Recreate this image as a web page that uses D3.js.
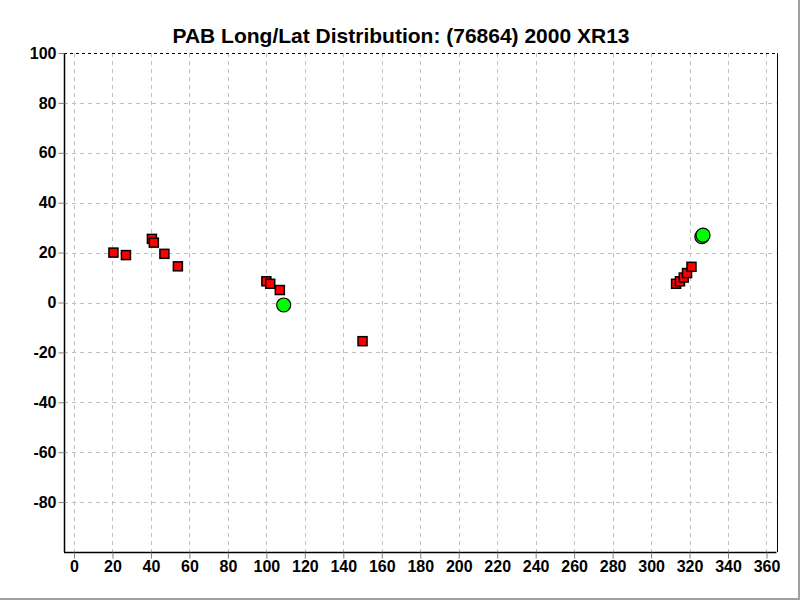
<!DOCTYPE html>
<html><head><meta charset="utf-8">
<script src="https://cdn.jsdelivr.net/npm/d3@7"></script>
<style>body{margin:0;background:#fff}svg{display:block}</style>
</head><body>
<svg id="c" width="800" height="600"></svg>
<script>
const title = "PAB Long/Lat Distribution: (76864) 2000 XR13";
const xTicks = d3.range(0, 361, 20);
const yTicks = [100, 80, 60, 40, 20, 0, -20, -40, -60, -80];
const squareLon = [20.5, 27, 40.5, 41.5, 47, 54, 100, 102, 107, 150, 313, 315, 317, 318.7, 321];
const squareLat = [20, 19, 25.5, 24, 19.5, 14.5, 8.5, 7.5, 5, -15.5, 7.5, 8.5, 10, 11.8, 14.3];
const circleLon = [109, 326.4, 327];
const circleLat = [-1, 26.4, 27];

const svg = d3.select("#c");
const m = {l: 64, t: 53, r: 776.5, b: 552};
const x = d3.scaleLinear().domain([-5.2, 365.2]).range([m.l, m.r]);
const y = d3.scaleLinear().domain([-100, 100]).range([m.b, m.t]);

svg.append("rect").attr("width", 800).attr("height", 600).attr("fill", "#fff");

// grid
const g = svg.append("g");
g.selectAll(".vx").data(xTicks).join("line")
  .attr("x1", d => Math.round(x(d)) + 0.5).attr("x2", d => Math.round(x(d)) + 0.5)
  .attr("y1", m.t).attr("y2", m.b)
  .attr("stroke", "#c0c0c0").attr("stroke-dasharray", "4,4");
g.selectAll(".hy").data(yTicks.filter(d => d !== 100)).join("line")
  .attr("y1", d => Math.round(y(d)) + 0.5).attr("y2", d => Math.round(y(d)) + 0.5)
  .attr("x1", m.l).attr("x2", m.r)
  .attr("stroke", "#c0c0c0").attr("stroke-dasharray", "4,4");
// top border dashed
g.append("line").attr("x1", m.l).attr("x2", m.r)
  .attr("y1", Math.round(y(100)) + 0.5).attr("y2", Math.round(y(100)) + 0.5)
  .attr("stroke", "#000").attr("stroke-dasharray", "3,3");
// right border
g.append("line").attr("x1", Math.round(m.r) + 0.5).attr("x2", Math.round(m.r) + 0.5)
  .attr("y1", m.t).attr("y2", m.b).attr("stroke", "#000");

// axes
const fmt = d => String(d);
const xAxis = d3.axisBottom(x).tickValues(xTicks).tickSize(6).tickPadding(2).tickFormat(fmt);
const yAxis = d3.axisLeft(y).tickValues(yTicks).tickSize(6).tickPadding(2).tickFormat(fmt);
const ax = svg.append("g").attr("transform", `translate(0,${m.b + 0.5})`).call(xAxis);
const ay = svg.append("g").attr("transform", `translate(${m.l + 0.5},0)`).call(yAxis);
[ax, ay].forEach(a => {
  a.select(".domain").attr("stroke", "#000").attr("stroke-width", 1.5);
  a.selectAll(".tick line").attr("stroke", "#808080");
  a.selectAll("text").attr("fill", "#000")
    .style("font-family", "Liberation Sans, Arial, sans-serif")
    .style("font-weight", "bold").style("font-size", "16px");
});
ax.select(".domain").attr("d", `M${m.l},0H${m.r}`);
ay.select(".domain").attr("d", `M0,${m.t}V${m.b}`);

// points
const sq = 9;
svg.append("g").selectAll("rect").data(squareLon.map((d, i) => [d, squareLat[i]])).join("rect")
  .attr("x", d => x(d[0]) - sq / 2).attr("y", d => y(d[1]) - sq / 2)
  .attr("width", sq).attr("height", sq)
  .attr("fill", "#ff0000").attr("stroke", "#000").attr("stroke-width", 1.5);
svg.append("g").selectAll("circle").data(circleLon.map((d, i) => [d, circleLat[i]])).join("circle")
  .attr("cx", d => x(d[0])).attr("cy", d => y(d[1])).attr("r", 7)
  .attr("fill", "#00ff00").attr("stroke", "#000").attr("stroke-width", 1.2);

// title
svg.append("text").attr("x", 401).attr("y", 43).attr("text-anchor", "middle")
  .style("font-family", "Liberation Sans, Arial, sans-serif")
  .style("font-weight", "bold").style("font-size", "21px").text(title);

// frame
svg.append("line").attr("x1", 799).attr("x2", 799).attr("y1", 0).attr("y2", 600).attr("stroke", "#a0a0a0").attr("stroke-width", 2);
svg.append("line").attr("x1", 0).attr("x2", 800).attr("y1", 599).attr("y2", 599).attr("stroke", "#a0a0a0").attr("stroke-width", 2);
</script>
</body></html>
